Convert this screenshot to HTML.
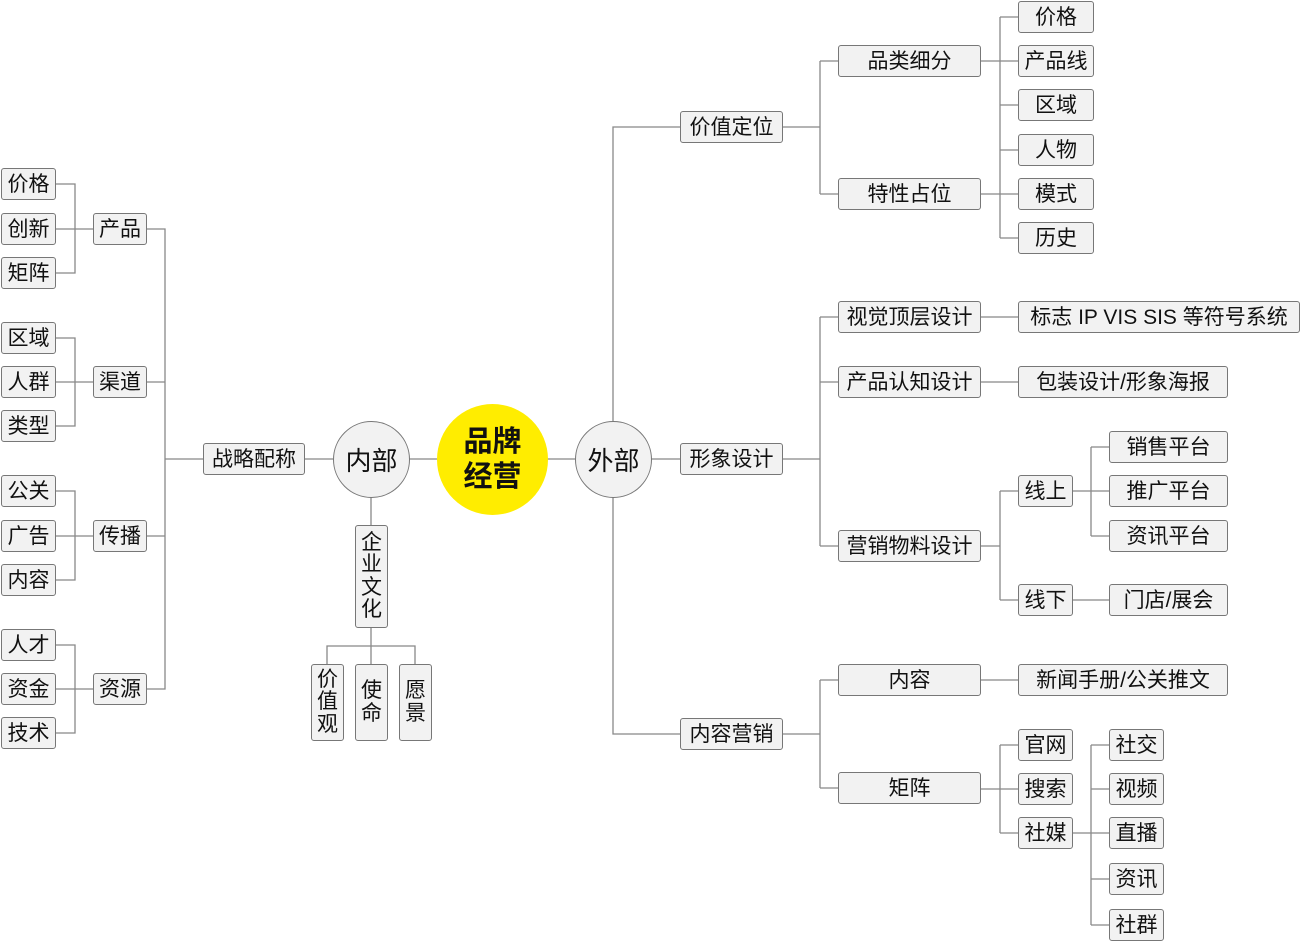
<!DOCTYPE html>
<html><head><meta charset="utf-8"><style>
body{margin:0;width:1302px;height:942px;background:#fff;position:relative;overflow:hidden;font-family:"Liberation Sans","Noto Sans CJK SC",sans-serif;}
.b{position:absolute;box-sizing:border-box;border:1px solid #777;background:#f2f2f2;border-radius:3px;display:flex;align-items:center;justify-content:center;font-size:21px;color:#111;white-space:nowrap;line-height:1;}
.v{flex-direction:column;line-height:1.05;}
.c{position:absolute;border-radius:50%;box-sizing:border-box;display:flex;align-items:center;justify-content:center;font-size:26px;color:#111;}
svg{position:absolute;left:0;top:0}
</style></head><body>
<svg width="1302" height="942"><g stroke="#888" stroke-width="1.3" fill="none">
<path d="M56 184H75V273H56M56 229H93"/>
<path d="M56 338H75V426H56M56 382H93"/>
<path d="M56 491H75V580H56M56 536H93"/>
<path d="M56 645H75V733H56M56 689H93"/>
<path d="M147 229H165V689H147M147 382H165M147 536H165M165 459H203"/>
<path d="M305 459H333M409 459H437M547 459H575"/>
<path d="M371 497V525M371 628V664M327 664V646H415V664"/>
<path d="M651 459H680M613 421V127H680M613 497V734H680"/>
<path d="M783 127H820M820 61V194M820 61H838M820 194H838"/>
<path d="M981 61H1000M981 194H1000M1000 17V238M1000 17H1018M1000 61H1018M1000 105H1018M1000 150H1018M1000 194H1018M1000 238H1018"/>
<path d="M783 459H820M820 317V546M820 317H838M820 382H838M820 546H838"/>
<path d="M981 317H1018M981 382H1018M981 546H1000M1000 491V600M1000 491H1018M1000 600H1018"/>
<path d="M1073 491H1091M1091 447V536M1091 447H1109M1091 491H1109M1091 536H1109M1073 600H1109"/>
<path d="M783 734H820M820 680V788M820 680H838M820 788H838M981 680H1018"/>
<path d="M981 789H1000M1000 745V833M1000 745H1018M1000 789H1018M1000 833H1018"/>
<path d="M1073 833H1091M1091 745V925M1091 745H1109M1091 789H1109M1091 833H1109M1091 879H1109M1091 925H1109"/>
</g></svg>

<div class="b" style="left:1px;top:168px;width:55px;height:32px">价格</div>
<div class="b" style="left:1px;top:213px;width:55px;height:32px">创新</div>
<div class="b" style="left:1px;top:257px;width:55px;height:32px">矩阵</div>
<div class="b" style="left:1px;top:322px;width:55px;height:32px">区域</div>
<div class="b" style="left:1px;top:366px;width:55px;height:32px">人群</div>
<div class="b" style="left:1px;top:410px;width:55px;height:32px">类型</div>
<div class="b" style="left:1px;top:475px;width:55px;height:32px">公关</div>
<div class="b" style="left:1px;top:520px;width:55px;height:32px">广告</div>
<div class="b" style="left:1px;top:564px;width:55px;height:32px">内容</div>
<div class="b" style="left:1px;top:629px;width:55px;height:32px">人才</div>
<div class="b" style="left:1px;top:673px;width:55px;height:32px">资金</div>
<div class="b" style="left:1px;top:717px;width:55px;height:32px">技术</div>
<div class="b" style="left:93px;top:213px;width:54px;height:32px">产品</div>
<div class="b" style="left:93px;top:366px;width:54px;height:32px">渠道</div>
<div class="b" style="left:93px;top:520px;width:54px;height:32px">传播</div>
<div class="b" style="left:93px;top:673px;width:54px;height:32px">资源</div>
<div class="b" style="left:203px;top:443px;width:102px;height:32px">战略配称</div>

<div class="c" style="left:333px;top:421px;width:77px;height:77px;background:#f2f2f2;border:1px solid #777">内部</div>
<div class="c" style="left:437px;top:404px;width:111px;height:111px;background:#ffed00;font-weight:bold;font-size:29px;line-height:1.2;text-align:center">品牌<br>经营</div>
<div class="c" style="left:575px;top:421px;width:77px;height:77px;background:#f2f2f2;border:1px solid #777">外部</div>

<div class="b v" style="left:355px;top:525px;width:33px;height:103px">企<br>业<br>文<br>化</div>
<div class="b v" style="left:311px;top:664px;width:33px;height:77px">价<br>值<br>观</div>
<div class="b v" style="left:355px;top:664px;width:33px;height:77px">使<br>命</div>
<div class="b v" style="left:399px;top:664px;width:33px;height:77px">愿<br>景</div>

<div class="b" style="left:680px;top:111px;width:103px;height:32px">价值定位</div>
<div class="b" style="left:680px;top:443px;width:103px;height:32px">形象设计</div>
<div class="b" style="left:680px;top:718px;width:103px;height:32px">内容营销</div>

<div class="b" style="left:838px;top:45px;width:143px;height:32px">品类细分</div>
<div class="b" style="left:838px;top:178px;width:143px;height:32px">特性占位</div>
<div class="b" style="left:1018px;top:1px;width:76px;height:32px">价格</div>
<div class="b" style="left:1018px;top:45px;width:76px;height:32px">产品线</div>
<div class="b" style="left:1018px;top:89px;width:76px;height:32px">区域</div>
<div class="b" style="left:1018px;top:134px;width:76px;height:32px">人物</div>
<div class="b" style="left:1018px;top:178px;width:76px;height:32px">模式</div>
<div class="b" style="left:1018px;top:222px;width:76px;height:32px">历史</div>

<div class="b" style="left:838px;top:301px;width:143px;height:32px">视觉顶层设计</div>
<div class="b" style="left:838px;top:366px;width:143px;height:32px">产品认知设计</div>
<div class="b" style="left:838px;top:530px;width:143px;height:32px">营销物料设计</div>
<div class="b" style="left:1018px;top:301px;width:282px;height:32px">标志 IP VIS SIS 等符号系统</div>
<div class="b" style="left:1018px;top:366px;width:210px;height:32px">包装设计/形象海报</div>
<div class="b" style="left:1018px;top:475px;width:55px;height:32px">线上</div>
<div class="b" style="left:1018px;top:584px;width:55px;height:32px">线下</div>
<div class="b" style="left:1109px;top:431px;width:119px;height:32px">销售平台</div>
<div class="b" style="left:1109px;top:475px;width:119px;height:32px">推广平台</div>
<div class="b" style="left:1109px;top:520px;width:119px;height:32px">资讯平台</div>
<div class="b" style="left:1109px;top:584px;width:119px;height:32px">门店/展会</div>

<div class="b" style="left:838px;top:664px;width:143px;height:32px">内容</div>
<div class="b" style="left:838px;top:772px;width:143px;height:32px">矩阵</div>
<div class="b" style="left:1018px;top:664px;width:210px;height:32px">新闻手册/公关推文</div>
<div class="b" style="left:1018px;top:729px;width:55px;height:32px">官网</div>
<div class="b" style="left:1018px;top:773px;width:55px;height:32px">搜索</div>
<div class="b" style="left:1018px;top:817px;width:55px;height:32px">社媒</div>
<div class="b" style="left:1109px;top:729px;width:55px;height:32px">社交</div>
<div class="b" style="left:1109px;top:773px;width:55px;height:32px">视频</div>
<div class="b" style="left:1109px;top:817px;width:55px;height:32px">直播</div>
<div class="b" style="left:1109px;top:863px;width:55px;height:32px">资讯</div>
<div class="b" style="left:1109px;top:909px;width:55px;height:32px">社群</div>
</body></html>
